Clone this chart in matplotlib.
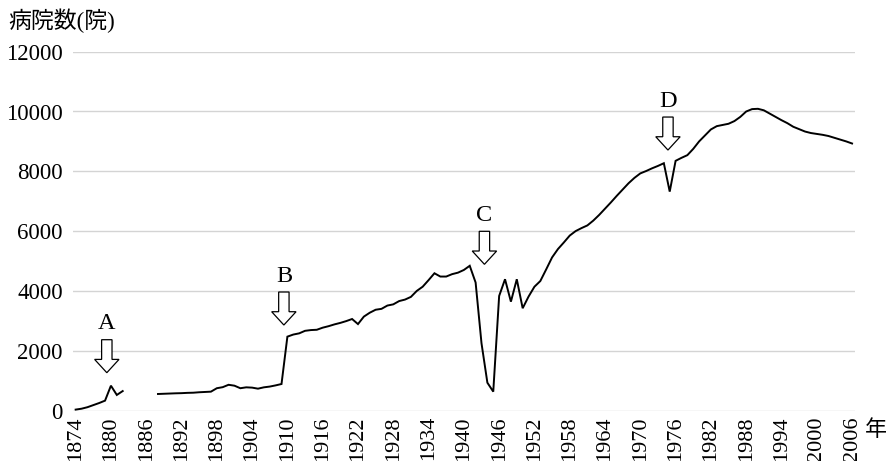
import numpy as np
import matplotlib
matplotlib.use("Agg")
import matplotlib.pyplot as plt
import matplotlib.transforms as mtransforms
from matplotlib.patches import Polygon

# ---------------- data (number of hospitals per year) ----------------
hosp_1874_1882 = [30, 60, 110, 180, 250, 330, 830, 520, 650]
hosp_1883_1887 = [np.nan] * 5          # no data
hosp_1888_1909 = [552, 560, 565, 575, 580, 590, 595, 610, 620, 630, 745,
                  780, 860, 830, 745, 775, 765, 730, 775, 800, 840, 886]
hosp_1910_1939 = [2470, 2540, 2580, 2665, 2690, 2700, 2770, 2820, 2880, 2930,
                  2990, 3060, 2890, 3140, 3270, 3370, 3400, 3510, 3550, 3660,
                  3710, 3800, 4000, 4140, 4360, 4590, 4480, 4480, 4560, 4610]
hosp_1940_1956 = [4700, 4840, 4280, 2250, 930, 630, 3830, 4390, 3640, 4390,
                  3420, 3810, 4140, 4330, 4720, 5120, 5400]
hosp_1957_1979 = [5620, 5850, 6000, 6100, 6190, 6350, 6540, 6750, 6960, 7180,
                  7390, 7600, 7780, 7930, 8010, 8100, 8180, 8270, 7320, 8350,
                  8450, 8540, 8750]
hosp_1980_2006 = [9000, 9200, 9400, 9510, 9550, 9590, 9680, 9820, 10000, 10080,
                  10090, 10040, 9930, 9820, 9710, 9610, 9490, 9410, 9330, 9280,
                  9250, 9220, 9180, 9120, 9060, 9000, 8930]

years = np.arange(1874, 2007)
hospitals = np.array(hosp_1874_1882 + hosp_1883_1887 + hosp_1888_1909 +
                     hosp_1910_1939 + hosp_1940_1956 + hosp_1957_1979 +
                     hosp_1980_2006, dtype=float)

xtick_years = list(range(1874, 2007, 6))
ytick_values = [0, 2000, 4000, 6000, 8000, 10000, 12000]

marks = ["A", "B", "C", "D"]
mark_years = [1879.3, 1909.4, 1943.5, 1974.7]
mark_values = [1264, 2859, 4889, 8711]

y_label = "病院数(院)"
x_label = "年"

# ---------------- figure ----------------
W, H, DPI = 887, 461, 100
fig = plt.figure(figsize=(W / DPI, H / DPI), dpi=DPI)
ax = fig.add_axes([72.7 / W, (H - 410.5) / H, (855 - 72.7) / W, (410.5 - 51.7) / H])

serif = "Liberation Serif"
jp = ["Liberation Serif", "Noto Sans CJK JP"]

ax.plot(years, hospitals, color="black", lw=1.4, solid_joinstyle="miter", zorder=3)

ax.set_xlim(1873.5, 2006.5)
ax.set_ylim(0, 12000)
ax.set_yticks(ytick_values)
ax.set_yticklabels([str(v) for v in ytick_values], fontfamily=serif, fontsize=16.5)
ax.set_xticks(xtick_years)
ax.set_xticklabels([str(y) for y in xtick_years], rotation=90, fontfamily=serif,
                   fontsize=16)
ax.tick_params(axis="both", length=0)
ax.tick_params(axis="y", pad=7)
ax.tick_params(axis="x", pad=4)
for s in ax.spines.values():
    s.set_visible(False)
ax.grid(axis="y", color="#d4d4d4", lw=1.0)
ax.set_axisbelow(True)

# titles
fig.text(8 / W, 1 - 9 / H, y_label, ha="left", va="top", fontsize=16.5,
         family=jp)
ax.text(1.027, -0.056, x_label, transform=ax.transAxes, ha="center", va="center",
        fontsize=16, family=jp)

# hollow down arrows with letters
verts_px = np.array([(0, 0), (-12.2, 13.3), (-5.2, 13.3), (-5.2, 33),
                     (5.2, 33), (5.2, 13.3), (12.2, 13.3)])
for m, xv, yv in zip(marks, mark_years, mark_values):
    trans = fig.dpi_scale_trans + mtransforms.ScaledTranslation(xv, yv, ax.transData)
    poly = Polygon(verts_px / DPI, closed=True, facecolor="white",
                   edgecolor="black", lw=0.9, transform=trans, zorder=4)
    ax.add_patch(poly)
    ax.annotate(m, xy=(xv, yv), xytext=(0, 43.5), textcoords="offset pixels",
                ha="center", va="baseline", fontsize=17.5, fontfamily=serif,
                zorder=5)

fig.savefig("out.png", dpi=DPI)
